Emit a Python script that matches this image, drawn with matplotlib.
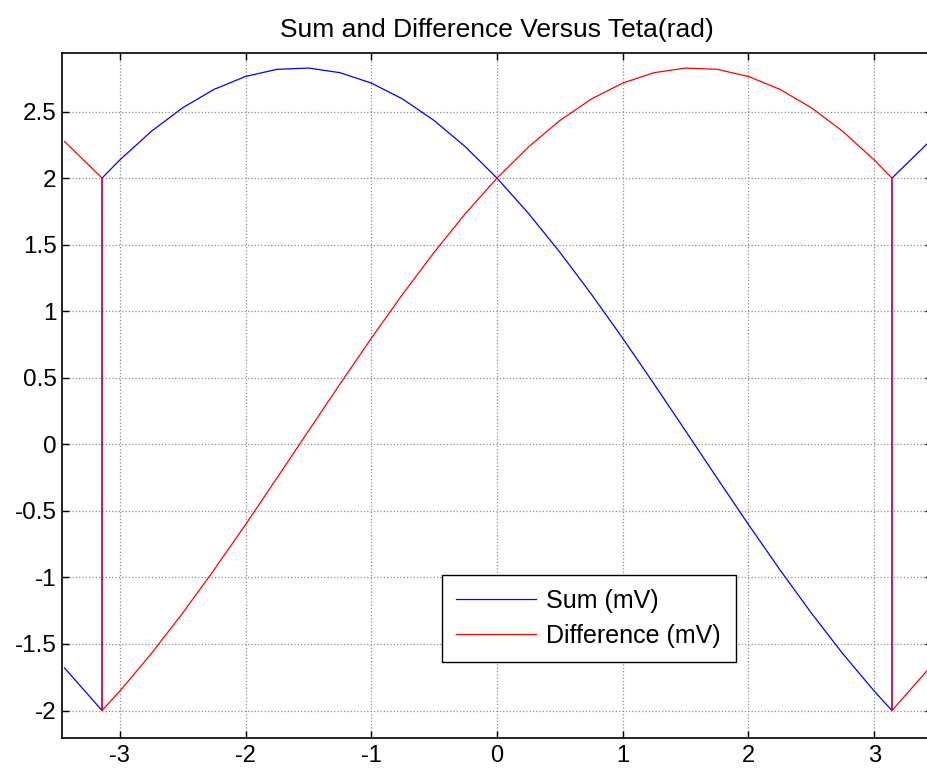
import matplotlib
matplotlib.use("Agg")
import matplotlib.pyplot as plt

plt.rcParams['font.family'] = ['Liberation Sans', 'DejaVu Sans']

# Theta (rad) sample points; the jumps at +/- pi appear twice
theta = [-3.44, -3.1416, -3.1416, -3.0, -2.75, -2.5, -2.25, -2.0, -1.75, -1.5,
         -1.25, -1.0, -0.75, -0.5, -0.25, 0.0, 0.25, 0.5, 0.75, 1.0, 1.25,
         1.5, 1.75, 2.0, 2.25, 2.5, 2.75, 3.0, 3.1416, 3.1416, 3.44]
sum_mv = [-1.680, -2.0, 2.0, 2.1365, 2.3509, 2.5286, 2.6669, 2.7635, 2.8171,
          2.8267, 2.7921, 2.7140, 2.5936, 2.4326, 2.2337, 2.0, 1.7351, 1.4430,
          1.1285, 0.7963, 0.4517, 0.1001, -0.2531, -0.6023, -0.9422, -1.2673,
          -1.5727, -1.8535, -2.0, 2.0, 2.275]
diff_mv = [2.275, 2.0, -2.0, -1.8535, -1.5727, -1.2673, -0.9422, -0.6023,
           -0.2531, 0.1001, 0.4517, 0.7963, 1.1285, 1.4430, 1.7351, 2.0, 2.2337,
           2.4326, 2.5936, 2.7140, 2.7921, 2.8267, 2.8171, 2.7635, 2.6669,
           2.5286, 2.3509, 2.1365, 2.0, -2.0, -1.680]

xticks = [-3, -2, -1, 0, 1, 2, 3]
yticks = [-2, -1.5, -1, -0.5, 0, 0.5, 1, 1.5, 2, 2.5]
ytick_labels = ['-2', '-1.5', '-1', '-0.5', '0', '0.5', '1', '1.5', '2', '2.5']

fig = plt.figure(figsize=(9.27, 7.71), dpi=100)
ax = fig.add_axes([0.0669, 0.0432, 0.9385, 0.8881])

ax.plot(theta, sum_mv, color=(0, 0, 1), lw=0.9, label='Sum (mV)')
ax.plot(theta, diff_mv, color=(1, 0, 0), lw=0.9, label='Difference (mV)')

ax.set_xlim(-3.46, 3.46)
ax.set_ylim(-2.204, 2.94)
ax.set_xticks(xticks)
ax.set_xticklabels([str(t) for t in xticks])
ax.set_yticks(yticks)
ax.set_yticklabels(ytick_labels)

ax.grid(True, color='#8c8c8c', linestyle=':', linewidth=0.9)
ax.tick_params(direction='in', length=5, width=1, top=True, right=True,
               labelsize=17.5)
ax.tick_params(axis='x', labelsize=17, pad=5.5)
ax.tick_params(axis='y', pad=4)
for sp in ax.spines.values():
    sp.set_linewidth(1.2)

ax.set_title('Sum and Difference Versus Teta(rad)', fontsize=19, pad=11.5)

leg = ax.legend(loc='lower left', bbox_to_anchor=(0.4368, 0.1106, 0.3379, 0.1241),
                mode='expand', borderaxespad=0, fancybox=False, framealpha=1,
                edgecolor='black', fontsize=18, handlelength=3.2,
                handletextpad=0.41, labelspacing=0.45, borderpad=0.55)
leg.get_frame().set_linewidth(1.0)

fig.savefig('out.png', dpi=100)
